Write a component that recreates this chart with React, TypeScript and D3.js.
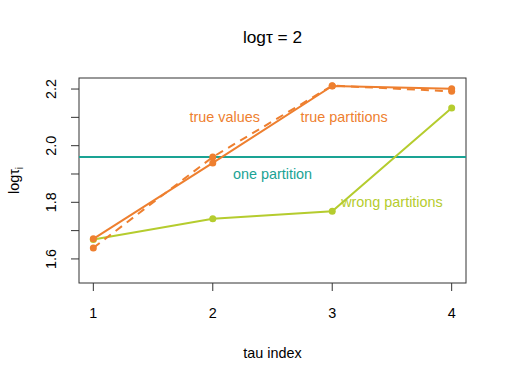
import React, { useEffect, useRef } from "react";
import * as d3 from "d3";

const tauIndex = [1, 2, 3, 4];
const trueValues = [1.639, 1.96, 2.212, 2.192];
const truePartitions = [1.671, 1.939, 2.211, 2.201];
const wrongPartitions = [1.669, 1.742, 1.768, 2.133];
const onePartition = 1.96;
const yTicks = [1.6, 1.7, 1.8, 1.9, 2.0, 2.1, 2.2];
const yLabels = ["1.6", "", "1.8", "", "2.0", "", "2.2"];
const labels = [
  { text: "true values", x: 2.1, y: 2.1, color: "#EE7F2F" },
  { text: "true partitions", x: 3.1, y: 2.1, color: "#EE7F2F" },
  { text: "one partition", x: 2.5, y: 1.9, color: "#1AA394" },
  { text: "wrong partitions", x: 3.5, y: 1.8, color: "#B5CC2E" },
];

const W = 506;
const H = 382;
const FONT = "'Liberation Sans', Arial, sans-serif";

function App() {
  const ref = useRef<SVGSVGElement>(null);

  useEffect(() => {
    const svg = d3.select(ref.current);
    svg.selectAll("*").remove();

    const left = 79, right = 466, top = 78, bottom = 283;
    const x = d3.scaleLinear().domain([0.88, 4.12]).range([left, right]);
    const y = d3.scaleLinear().domain([1.515, 2.239]).range([bottom, top]);

    // box
    svg.append("rect")
      .attr("x", left).attr("y", top)
      .attr("width", right - left).attr("height", bottom - top)
      .attr("fill", "none").attr("stroke", "#333").attr("stroke-width", 1);

    // x axis ticks
    const xa = svg.append("g");
    tauIndex.forEach(t => {
      xa.append("line")
        .attr("x1", x(t)).attr("x2", x(t))
        .attr("y1", bottom).attr("y2", bottom + 8)
        .attr("stroke", "#333");
      xa.append("text")
        .attr("x", x(t)).attr("y", bottom + 35)
        .attr("text-anchor", "middle")
        .attr("font-size", 14.4).attr("font-family", FONT)
        .text(t);
    });

    // y axis ticks
    const ya = svg.append("g");
    yTicks.forEach((v, i) => {
      ya.append("line")
        .attr("x1", left - 8).attr("x2", left)
        .attr("y1", y(v)).attr("y2", y(v))
        .attr("stroke", "#333");
      if (yLabels[i]) {
        ya.append("text")
          .attr("transform", `translate(${left - 23},${y(v)}) rotate(-90)`)
          .attr("text-anchor", "middle")
          .attr("font-size", 14.4).attr("font-family", FONT)
          .text(yLabels[i]);
      }
    });

    // horizontal line
    svg.append("line")
      .attr("x1", left).attr("x2", right)
      .attr("y1", y(onePartition)).attr("y2", y(onePartition))
      .attr("stroke", "#1AA394").attr("stroke-width", 2);

    const line = d3.line<number>().x((d, i) => x(tauIndex[i])).y(d => y(d));

    const series = [
      { data: wrongPartitions, color: "#B5CC2E", dash: null },
      { data: trueValues, color: "#EE7F2F", dash: "8,6" },
      { data: truePartitions, color: "#EE7F2F", dash: null },
    ];
    series.forEach(s => {
      svg.append("path")
        .attr("d", line(s.data))
        .attr("fill", "none")
        .attr("stroke", s.color)
        .attr("stroke-width", 2)
        .attr("stroke-dasharray", s.dash);
      svg.selectAll(null)
        .data(s.data)
        .enter()
        .append("circle")
        .attr("cx", (d, i) => x(tauIndex[i]))
        .attr("cy", d => y(d))
        .attr("r", 3.5)
        .attr("fill", s.color);
    });

    labels.forEach(l => {
      svg.append("text")
        .attr("x", x(l.x)).attr("y", y(l.y))
        .attr("text-anchor", "middle")
        .attr("dominant-baseline", "central")
        .attr("font-size", 14.4).attr("font-family", FONT)
        .attr("fill", l.color)
        .text(l.text);
    });

    // titles
    svg.append("text")
      .attr("x", (left + right) / 2).attr("y", 43)
      .attr("text-anchor", "middle")
      .attr("font-size", 17.3).attr("font-family", FONT)
      .text("logτ = 2");

    svg.append("text")
      .attr("x", (left + right) / 2).attr("y", 358)
      .attr("text-anchor", "middle")
      .attr("font-size", 14.4).attr("font-family", FONT)
      .text("tau index");

    const yl = svg.append("text")
      .attr("transform", `translate(${19},${(top + bottom) / 2}) rotate(-90)`)
      .attr("text-anchor", "middle")
      .attr("font-size", 14.4).attr("font-family", FONT);
    yl.append("tspan").text("logτ");
    yl.append("tspan").attr("font-size", 10).attr("dy", 4).text("i");
  }, []);

  return (
    <svg
      ref={ref}
      width={W}
      height={H}
      style={{ position: "absolute", left: 0, top: 0, background: "#fff" }}
    />
  );
}

export default App;
